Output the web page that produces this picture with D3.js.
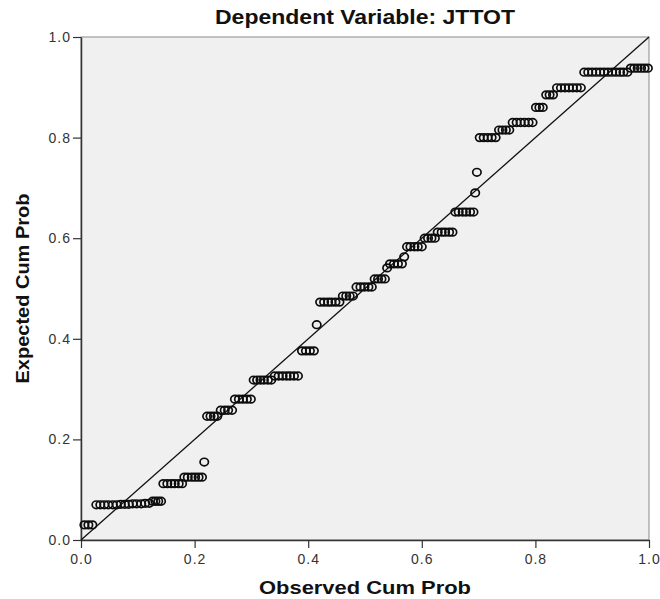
<!DOCTYPE html>
<html>
<head>
<meta charset="utf-8">
<script src="https://cdn.jsdelivr.net/npm/d3@7"></script>
<style>
  body { margin: 0; background: #fff; }
  svg { display: block; font-family: "Liberation Sans", Arial, sans-serif; }
</style>
</head>
<body>
<div id="container"></div>
<script>
// chart data
var title = "Dependent Variable: JTTOT";
var xLabel = "Observed Cum Prob";
var yLabel = "Expected Cum Prob";
var tickValues = [0, 0.2, 0.4, 0.6, 0.8, 1.0];

var observed = [
  0.006, 0.013, 0.020,
  0.027, 0.034, 0.041, 0.048, 0.056, 0.063, 0.070, 0.077, 0.084, 0.091, 0.098, 0.106, 0.113, 0.120,
  0.126, 0.131, 0.136, 0.141,
  0.145, 0.152, 0.159, 0.165, 0.172, 0.178,
  0.182, 0.188, 0.195, 0.201, 0.207, 0.213,
  0.217,
  0.222, 0.228, 0.234, 0.240,
  0.246, 0.253, 0.259, 0.266,
  0.271, 0.278, 0.285, 0.292, 0.299,
  0.304, 0.310, 0.316, 0.322, 0.329, 0.335,
  0.341, 0.348, 0.355, 0.362, 0.368, 0.375, 0.382,
  0.389, 0.396, 0.403, 0.410,
  0.415,
  0.421, 0.428, 0.435, 0.441, 0.448, 0.455,
  0.461, 0.467, 0.473, 0.479,
  0.485, 0.492, 0.499, 0.506, 0.512,
  0.517, 0.523, 0.529, 0.535,
  0.539,
  0.544, 0.551, 0.558, 0.565,
  0.569,
  0.574, 0.580, 0.587, 0.593, 0.600,
  0.605, 0.611, 0.617, 0.623,
  0.628, 0.635, 0.641, 0.648, 0.654,
  0.659, 0.665, 0.672, 0.678, 0.685, 0.691,
  0.694, 0.697,
  0.702, 0.709, 0.716, 0.723, 0.730,
  0.736, 0.742, 0.748, 0.754,
  0.760, 0.767, 0.774, 0.781, 0.788, 0.795,
  0.801, 0.807, 0.813,
  0.819, 0.825, 0.831,
  0.838, 0.845, 0.852, 0.859, 0.866, 0.873, 0.880,
  0.886, 0.893, 0.900, 0.907, 0.914, 0.921, 0.928, 0.935, 0.942, 0.949, 0.955, 0.962,
  0.968, 0.974, 0.980, 0.986, 0.992, 0.998
];

var expected = [
  0.030, 0.030, 0.030,
  0.070, 0.070, 0.070, 0.070, 0.070, 0.070, 0.071, 0.071, 0.071, 0.072, 0.072, 0.072, 0.073, 0.073,
  0.077, 0.077, 0.077, 0.077,
  0.112, 0.112, 0.112, 0.112, 0.112, 0.112,
  0.125, 0.125, 0.125, 0.125, 0.125, 0.125,
  0.155,
  0.246, 0.246, 0.246, 0.246,
  0.258, 0.258, 0.258, 0.258,
  0.280, 0.280, 0.280, 0.280, 0.280,
  0.318, 0.318, 0.318, 0.318, 0.318, 0.318,
  0.326, 0.326, 0.326, 0.326, 0.326, 0.326, 0.326,
  0.376, 0.376, 0.376, 0.376,
  0.428,
  0.473, 0.473, 0.473, 0.473, 0.473, 0.473,
  0.485, 0.485, 0.485, 0.485,
  0.503, 0.503, 0.503, 0.503, 0.503,
  0.519, 0.519, 0.519, 0.519,
  0.541,
  0.549, 0.549, 0.549, 0.549,
  0.563,
  0.583, 0.583, 0.583, 0.583, 0.583,
  0.600, 0.600, 0.600, 0.600,
  0.612, 0.612, 0.612, 0.612, 0.612,
  0.652, 0.652, 0.652, 0.652, 0.652, 0.652,
  0.690, 0.731,
  0.800, 0.800, 0.800, 0.800, 0.800,
  0.815, 0.815, 0.815, 0.815,
  0.830, 0.830, 0.830, 0.830, 0.830, 0.830,
  0.860, 0.860, 0.860,
  0.885, 0.885, 0.885,
  0.899, 0.899, 0.899, 0.899, 0.899, 0.899, 0.899,
  0.930, 0.930, 0.930, 0.930, 0.930, 0.930, 0.930, 0.930, 0.930, 0.930, 0.930, 0.930,
  0.938, 0.938, 0.938, 0.938, 0.938, 0.938
];

var points = observed.map(function(d, i) { return {x: d, y: expected[i]}; });

// chart size + margins
var totalWidth = 660, totalHeight = 599;
var margin = {top: 37, right: 11, bottom: 59, left: 81};
var width = totalWidth - margin.left - margin.right;
var height = totalHeight - margin.top - margin.bottom;

var svg = d3.select("#container")
  .append("svg")
  .attr("width", totalWidth)
  .attr("height", totalHeight);

var g = svg.append("g")
  .attr("transform", "translate(" + margin.left + "," + margin.top + ")");

var x = d3.scaleLinear().domain([0, 1]).range([0, width]);
var y = d3.scaleLinear().domain([0, 1]).range([height, 0]);

// plot background + frame
g.append("rect")
  .attr("x", 0).attr("y", 0)
  .attr("width", width).attr("height", height)
  .style("fill", "#f0f0f0")
  .style("stroke", "#8a8a8a")
  .style("stroke-width", 1);

// axes
var xAxis = g.append("g")
  .attr("transform", "translate(0," + height + ")")
  .call(d3.axisBottom(x).tickValues(tickValues).tickFormat(d3.format(".1f")).tickSize(8).tickSizeOuter(0));
var yAxis = g.append("g")
  .call(d3.axisLeft(y).tickValues(tickValues).tickFormat(d3.format(".1f")).tickSize(8).tickSizeOuter(0));

[xAxis, yAxis].forEach(function(a) {
  a.select(".domain").style("stroke", "#333").style("stroke-width", 1.5);
  a.selectAll(".tick line").style("stroke", "#333").style("stroke-width", 1.2);
  a.selectAll(".tick text")
    .style("font-size", "14px")
    .style("letter-spacing", "1px")
    .style("fill", "#333");
});
xAxis.selectAll(".tick text").attr("dy", "0.95em");
yAxis.selectAll(".tick text").attr("x", -10);

// reference diagonal
g.append("line")
  .attr("x1", x(0)).attr("y1", y(0))
  .attr("x2", x(1)).attr("y2", y(1))
  .style("stroke", "#111")
  .style("stroke-width", 1.3);

// points
g.append("g")
  .selectAll("ellipse")
  .data(points)
  .enter()
  .append("ellipse")
  .attr("cx", function(d) { return x(d.x); })
  .attr("cy", function(d) { return y(d.y); })
  .attr("rx", 4.2)
  .attr("ry", 3.8)
  .style("fill", "none")
  .style("stroke", "#0d0d0d")
  .style("stroke-width", 1.7);

// title
svg.append("text")
  .attr("x", margin.left + width / 2)
  .attr("y", 24)
  .attr("text-anchor", "middle")
  .attr("textLength", 300)
  .attr("lengthAdjust", "spacingAndGlyphs")
  .style("font-size", "20px")
  .style("font-weight", "bold")
  .style("fill", "#111")
  .text(title);

// x axis label
svg.append("text")
  .attr("x", margin.left + width / 2)
  .attr("y", 594)
  .attr("text-anchor", "middle")
  .attr("textLength", 212)
  .attr("lengthAdjust", "spacingAndGlyphs")
  .style("font-size", "18px")
  .style("font-weight", "bold")
  .style("fill", "#111")
  .text(xLabel);

// y axis label
svg.append("text")
  .attr("transform", "translate(29," + (margin.top + height / 2) + ") rotate(-90)")
  .attr("text-anchor", "middle")
  .attr("textLength", 190)
  .attr("lengthAdjust", "spacingAndGlyphs")
  .style("font-size", "18px")
  .style("font-weight", "bold")
  .style("fill", "#111")
  .text(yLabel);
</script>
</body>
</html>
